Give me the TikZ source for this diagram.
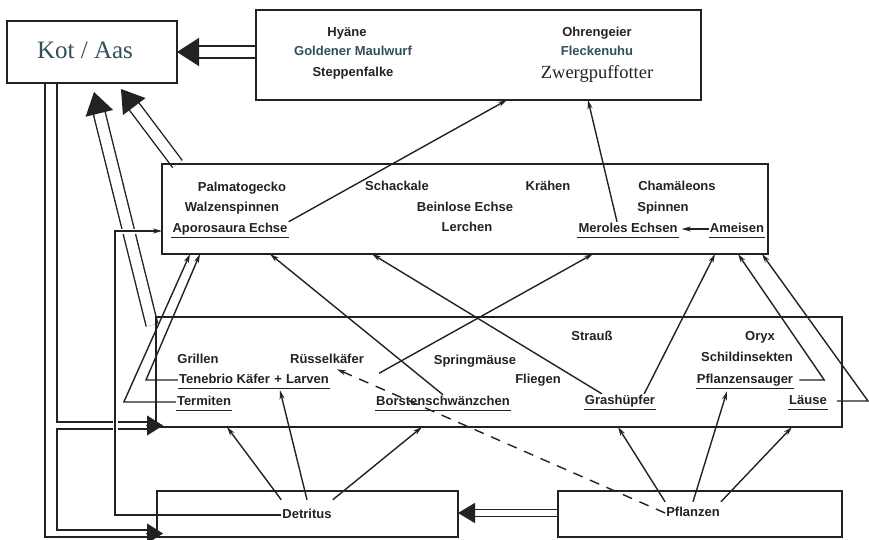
\documentclass[tikz,border=0pt]{standalone}
\usepackage{fontspec}
\setmainfont{Liberation Serif}
\newfontfamily\sansfnt{Liberation Sans}
\usetikzlibrary{arrows.meta}
\definecolor{ink}{HTML}{222222}
\definecolor{tealink}{HTML}{2F4F5A}
\begin{document}
\begin{tikzpicture}[x=1pt,y=-1pt,
  frame/.style={draw=ink, line width=1.4pt},
  area/.style={anchor=north west, inner sep=0pt, outer sep=0pt},
  lab/.style={font=\sansfnt\bfseries\fontsize{13}{15}\selectfont, text=ink, inner sep=1pt, text height=9.3pt, text depth=2.8pt},
  ul/.style={append after command={([yshift=-1.2pt]\tikzlastnode.south west) edge[draw=ink,line width=1.1pt] ([yshift=-1.2pt]\tikzlastnode.south east)}},
  conn/.style={draw=ink, line width=1.4pt, -{Stealth[length=9pt,width=5pt]}},
  dbl/.style={draw=ink, line width=1.4pt, double=white, double distance=10.5pt, -{Triangle[length=22pt,width=28pt]}},
  dblsmall/.style={draw=ink, line width=1.4pt, double=white, double distance=6pt, -{Triangle[length=17pt,width=20pt]}},
  wire/.style={draw=ink, line width=1.4pt},
  head/.style={draw=ink, line width=0.4pt, -{Triangle[length=16pt,width=20pt]}},
]
\useasboundingbox (0,0) rectangle (869,539);

% boxes (frames drawn at the end)
\node[area, minimum width=170pt, minimum height=62pt] (kot) at (7,21) {};
\node[area, minimum width=445pt, minimum height=90pt] (topbox) at (256,10) {};
\node[area, minimum width=606pt, minimum height=90pt] (pred) at (162,164) {};
\node[area, minimum width=686pt, minimum height=110pt] (mid) at (156,317) {};
\node[area, minimum width=301pt, minimum height=46pt] (det) at (157,491) {};
\node[area, minimum width=284pt, minimum height=46pt] (pfl) at (558,491) {};

% texts
\node[font=\fontsize{25}{27}\selectfont, text=tealink] (kottext) at (85,50) {Kot / Aas};
\node[lab] (hy) at (347,33) {Hyäne};
\node[lab, text=tealink] (gm) at (353,52) {Goldener Maulwurf};
\node[lab] (sf) at (353,73) {Steppenfalke};
\node[lab] (og) at (597,33) {Ohrengeier};
\node[lab, text=tealink] (fu) at (597,52) {Fleckenuhu};
\node[font=\fontsize{18.5}{20}\selectfont, text=ink] (zp) at (597,74) {Zwergpuffotter};

\node[lab] (pg) at (242,188) {Palmatogecko};
\node[lab] (ws) at (232,208) {Walzenspinnen};
\node[lab, ul] (ap) at (230,229) {Aporosaura Echse};
\node[lab] (sch) at (397,187) {Schackale};
\node[lab] (be) at (465,208) {Beinlose Echse};
\node[lab] (le) at (467,228) {Lerchen};
\node[lab] (kr) at (548,187) {Krähen};
\node[lab] (ch) at (677,187) {Chamäleons};
\node[lab] (sp) at (663,208) {Spinnen};
\node[lab, ul] (me) at (628,229) {Meroles Echsen};
\node[lab, ul] (am) at (737,229) {Ameisen};

\node[lab] (gr) at (198,360) {Grillen};
\node[lab] (rk) at (327,360) {Rüsselkäfer};
\node[lab, ul] (tk) at (254,380) {Tenebrio Käfer\,\,+\,\,Larven};
\node[lab, ul] (te) at (204,402) {Termiten};
\node[lab] (sm) at (475,361) {Springmäuse};
\node[lab] (fl) at (538,380) {Fliegen};
\node[lab, ul] (bs) at (443,402) {Borstenschwänzchen};
\node[lab] (st) at (592,337) {Strauß};
\node[lab] (ox) at (760,337) {Oryx};
\node[lab] (si) at (747,358) {Schildinsekten};
\node[lab, ul] (ps) at (745,380) {Pflanzensauger};
\node[lab, ul] (gh) at (620,401) {Grashüpfer};
\node[lab, ul] (lu) at (808,401) {Läuse};

\node[lab, inner ysep=9pt] (dt) at (307,515) {Detritus};
\node[lab, inner ysep=5pt] (pt) at (693,513) {Pflanzen};

% coordinates
\coordinate (kB) at (121,89);   \coordinate (pB) at (177.5,164);
\coordinate (kC) at (94,92);    \coordinate (mC) at (152,325);
\coordinate (kA) at (45,83);    \coordinate (kD) at (57,83);
\coordinate (mhA) at (147,422); \coordinate (mhB) at (147,429);
\coordinate (kinkD) at (57,530); \coordinate (dhB) at (147,530);
\coordinate (dhA) at (147,537);
\coordinate (mhH) at (146,425.5); \coordinate (mtip) at (163,425.5);
\coordinate (dhH) at (146,533.5); \coordinate (dtip) at (163,533.5);
\coordinate (turnA) at (115,231);
\coordinate (p1) at (190,254); \coordinate (p2) at (200,254);
\coordinate (p3) at (270,254); \coordinate (p4) at (372,254);
\coordinate (p5) at (593,254); \coordinate (p6) at (715,254);
\coordinate (p7) at (738,254); \coordinate (p8) at (762,254);
\coordinate (q1) at (227,427); \coordinate (q2) at (422,427);
\coordinate (q3) at (618,427); \coordinate (q4) at (792,427);
\coordinate (t1) at (507,100); \coordinate (t2) at (588,100);

% big double arrows to Kot / Aas
\draw[dbl] (topbox.west |- kot.east) -- (kot.east);
\draw[dbl] (pB) -- (kB);
\draw[dbl] (mC) -- (kC);

% Kot / Aas down to the insect box and to Detritus
\draw[wire] (kD) |- (mhA);
\draw[wire] (mhB) -| (kinkD) -- (dhB);
\draw[wire] (kA) |- (dhA);
\draw[head] (mhH) -- (mtip);
\draw[head] (dhH) -- (dtip);

% Detritus -> Aporosaura Echse (crossing over)
\draw[conn, preaction={draw=white, line width=5pt}] (dt.west) -| (turnA) -- (pred.west |- turnA);

% insects -> predators
\draw[conn] (te.west) -- ++(-52,0) -- (p1);
\draw[conn] (tk.west) -- ++(-32,0) -- (p2);
\draw[conn] (bs.north) -- (p3);
\draw[conn] ([xshift=18pt]gh.north west) -- (p4);
\draw[conn] ([xshift=14pt,yshift=-6pt]rk.south east) -- (p5);
\draw[conn] ([xshift=-12pt]gh.north east) -- (p6);
\draw[conn] ([xshift=5pt]ps.east) -- ++(25,0) -- (p7);
\draw[conn] ([xshift=9pt]lu.east) -- ++(31,0) -- (p8);

% Detritus -> insects
\draw[conn] (dt.north west) -- (q1);
\draw[conn] (dt.north) -- ([xshift=26pt,yshift=-3pt]tk.south);
\draw[conn] (dt.north east) -- (q2);

% Pflanzen -> insects
\draw[conn] (pt.north west) -- (q3);
\draw[conn] (pt.north) -- ([xshift=-18pt,yshift=-4pt]ps.south);
\draw[conn] (pt.north east) -- (q4);
\draw[conn, dash pattern=on 10pt off 8pt] (pt.west) -- ([xshift=10pt,yshift=-2pt]rk.south);

% predators -> top predators
\draw[conn] (ap.north east) -- (t1);
\draw[conn] ([xshift=-11pt]me.north) -- (t2);
\draw[conn, shorten >=3pt] (am.west) -- (me.east);

% Pflanzen -> Detritus
\draw[dblsmall] (pfl.west |- pt) -- (det.east |- pt);

% frames
\foreach \b in {kot,topbox,pred,mid,det,pfl}
  \draw[frame] (\b.north west) rectangle (\b.south east);
\end{tikzpicture}
\end{document}
